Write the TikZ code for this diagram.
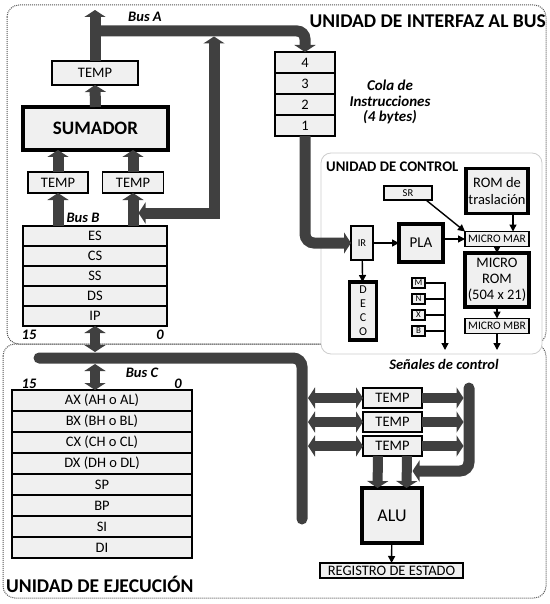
\documentclass[tikz,border=0pt]{standalone}
\usepackage{fontspec}
\setmainfont{Carlito}
\usepackage{tikz}
\usetikzlibrary{arrows.meta, positioning}
\definecolor{busgray}{RGB}{64,64,64}
\definecolor{boxfill}{RGB}{240,240,240}
\definecolor{dotgray}{RGB}{85,85,85}
\definecolor{cuborder}{RGB}{205,205,205}
\newcommand{\pxfont}[2]{\fontsize{#1}{#2}\selectfont}
\tikzset{
  reg/.style={rectangle, draw, line width=1.5pt, fill=boxfill, inner sep=0pt,
    outer sep=0pt, align=center, font=\pxfont{14.5}{16}},
  thickreg/.style={reg, line width=3.5pt},
  segreg/.style={reg, minimum width=144pt, minimum height=20pt, line width=2pt},
  qreg/.style={reg, minimum width=60pt, minimum height=21pt, line width=2pt},
  genreg/.style={reg, minimum width=180pt, minimum height=21pt, line width=2pt},
  smallreg/.style={reg, line width=1.3pt, font=\pxfont{11.5}{12}},
  flagreg/.style={reg, line width=1.3pt, minimum width=13pt, minimum height=10pt, font=\pxfont{9}{10}},
  bus/.style={line width=11pt, draw=busgray},
  busarrow/.style={bus, -{Triangle[length=7pt,width=21pt]}},
  busboth/.style={bus, {Triangle[length=7pt,width=21pt]}-{Triangle[length=7pt,width=21pt]}},
  sig/.style={line width=1.4pt, -{Triangle[length=7pt,width=7pt]}},
  buslabel/.style={font=\pxfont{14.5}{15}\bfseries\itshape, inner sep=0pt},
  region/.style={draw=dotgray, line width=1pt, dash pattern=on 1pt off 1pt, rounded corners=12pt},
}

\begin{document}
\begin{tikzpicture}[x=1pt, y=-1pt]
  \useasboundingbox (0,0) rectangle (549,604);
  % the two units
  \draw[region] (7,5) rectangle (546,344);
  \draw[region] (3,344) rectangle (546,598);
  \draw[draw=cuborder, fill=white, line width=0.8pt, rounded corners=10pt] (321,153) rectangle (542,354);
  \node[anchor=east, inner sep=0pt, font=\pxfont{19.5}{21}\bfseries] (biu) at (546,21) {UNIDAD DE INTERFAZ AL BUS};
  \node[anchor=west, inner sep=0pt, font=\pxfont{19.5}{21}\bfseries] (eu) at (6,584) {UNIDAD DE EJECUCIÓN};
  \node[anchor=west, inner sep=0pt, font=\pxfont{14.7}{16}\bfseries] (cu) at (326,167) {UNIDAD DE CONTROL};

  % bus interface unit
  \node[reg, minimum width=86pt, minimum height=24pt] (tempS) at (95,73) {TEMP};
  \node[thickreg, minimum width=145pt, minimum height=43pt, font=\pxfont{19}{20}\bfseries] (sumador) at (95.5,128.5) {SUMADOR};
  \node[reg, minimum width=60pt, minimum height=21pt] (tempL) at (58,182.5) {TEMP};
  \node[reg, minimum width=61pt, minimum height=21pt] (tempR) at (133,182.5) {TEMP};
  \node[segreg] (es) at (95,236) {ES};
  \node[segreg, below=0pt of es] (cs) {CS};
  \node[segreg, below=0pt of cs] (ss) {SS};
  \node[segreg, below=0pt of ss] (ds) {DS};
  \node[segreg, below=0pt of ds] (ip) {IP};
  \node[qreg] (q4) at (305,62.5) {4};
  \node[qreg, below=0pt of q4] (q3) {3};
  \node[qreg, below=0pt of q3] (q2) {2};
  \node[qreg, below=0pt of q2] (q1) {1};
  \node[buslabel, align=center, font=\pxfont{15}{15.5}\bfseries\itshape] (cola) at (390,102) {Cola de\\Instrucciones\\(4 bytes)};
  \node[buslabel] (lblA) at (145,17) {Bus A};
  \node[buslabel] (lblB) at (83,218) {Bus B};
  \node[buslabel] (hiB) at (29,335) {15};
  \node[buslabel] (loB) at (160,335) {0};

  \coordinate (aTop) at (95,10);
  \coordinate (busAl) at (95,31);
  \coordinate (bLink) at (138.5,213);
  \coordinate (aLink) at (214,36.5);
  \draw[busarrow] (es.north -| tempL) -- (tempL.south);
  \draw[busarrow] (es.north -| tempR) -- (tempR.south);
  \draw[busarrow] (tempL.north) -- (tempL.north |- sumador.south);
  \draw[busarrow] (tempR.north) -- (tempR.north |- sumador.south);
  \draw[busarrow] (sumador.north) -- (tempS.south);
  \draw[busarrow] (tempS.north) -- (aTop);
  \draw[busarrow, rounded corners=8pt] (busAl) -| (q4.north);
  \draw[busboth] (bLink) -| (aLink);

  % control unit
  \node[smallreg, minimum width=48pt, minimum height=14pt, font=\pxfont{10.5}{12}] (sr) at (408,193) {SR};
  \node[thickreg, minimum width=62pt, minimum height=45pt, font=\pxfont{14.5}{17}] (romtr) at (497,191) {ROM de\\traslación};
  \node[smallreg, minimum width=64pt, minimum height=15pt] (mar) at (497,239) {MICRO MAR};
  \node[reg, minimum width=22pt, minimum height=34pt, font=\pxfont{10.5}{11}] (ir) at (362,243) {IR};
  \node[thickreg, minimum width=44pt, minimum height=38pt, font=\pxfont{15}{16}] (pla) at (421,243) {PLA};
  \node[thickreg, minimum width=64pt, minimum height=54pt, font=\pxfont{14.5}{16}] (mrom) at (497,280) {MICRO\\ROM\\(504 x 21)};
  \node[smallreg, minimum width=64pt, minimum height=15pt] (mbr) at (497,326) {MICRO MBR};
  \node[thickreg, minimum width=27pt, minimum height=58pt, font=\pxfont{12}{14}] (deco) at (363,311) {D\\E\\C\\O};
  \node[flagreg] (fm) at (418.5,283) {M};
  \node[flagreg, below=6pt of fm] (fn) {N};
  \node[flagreg, below=6pt of fn] (fx) {X};
  \node[flagreg, below=6pt of fx] (fb) {B};
  \node[buslabel] (senales) at (444,364) {Señales de control};

  \coordinate (sigA) at (445,350);
  \coordinate (sigB) at (497,350);
  \draw[busarrow, rounded corners=9pt] (q1.south) |- (ir.west);
  \draw[sig] (ir) -- (pla);
  \draw[sig] (ir) -- (deco);
  \draw[sig] (pla.east |- mar) -- (mar.west);
  \draw[sig] ([xshift=-6pt]sr.south east) -- (mar.north west);
  \draw[sig] ([xshift=16pt]romtr.south) -- ([xshift=16pt]mar.north);
  \draw[sig] (mar) -- (mrom);
  \draw[sig] (mrom) -- (mbr);
  \draw[sig] (mbr) -- (sigB);
  \draw[sig] (fm.east) -| (sigA);
  \draw[line width=1.4pt] (fn.east) -- (fn.east -| sigA);
  \draw[line width=1.4pt] (fx.east) -- (fx.east -| sigA);
  \draw[line width=1.4pt] (fb.east) -- (fb.east -| sigA);

  % execution unit
  \node[genreg] (ax) at (102,400.5) {AX (AH o AL)};
  \node[genreg, below=0pt of ax] (bx) {BX (BH o BL)};
  \node[genreg, below=0pt of bx] (cx) {CX (CH o CL)};
  \node[genreg, below=0pt of cx] (dx) {DX (DH o DL)};
  \node[genreg, below=0pt of dx] (sp) {SP};
  \node[genreg, below=0pt of sp] (bp) {BP};
  \node[genreg, below=0pt of bp] (si) {SI};
  \node[genreg, below=0pt of si] (di) {DI};
  \node[buslabel] (lblC) at (142,373) {Bus C};
  \node[buslabel] (hiC) at (29,384) {15};
  \node[buslabel] (loC) at (178,384) {0};

  \node[reg, minimum width=59pt, minimum height=20pt] (t1) at (392.5,398) {TEMP};
  \node[reg, minimum width=59pt, minimum height=20pt, below=4pt of t1] (t2) {TEMP};
  \node[reg, minimum width=59pt, minimum height=20pt, below=4pt of t2] (t3) {TEMP};
  \node[thickreg, minimum width=60pt, minimum height=55pt, font=\pxfont{18}{20}] (alu) at (392,515.5) {ALU};
  \node[reg, minimum width=143pt, minimum height=15pt, line width=2pt] (estado) at (391.5,570.5) {REGISTRO DE ESTADO};

  \coordinate (cL) at (39,358);
  \coordinate (cB) at (302,519);
  \coordinate (cR) at (308,450);
  \coordinate (rL) at (463.5,430);
  \coordinate (rTop) at (469,388);
  \coordinate (aluIn) at (412.5,471);
  \draw[bus, line cap=round, rounded corners=9pt] (cL) -| (cB);
  \draw[busboth, line width=10pt] (ip.south) -- ++(0,26);
  \draw[busboth, line width=10pt] (ax.north -| ip) -- ++(0,-26);
  \draw[busboth, line width=10pt] (t1.west -| cR) -- (t1.west);
  \draw[busboth, line width=10pt] (t2.west -| cR) -- (t2.west);
  \draw[busboth, line width=10pt] (t3.west -| cR) -- (t3.west);
  \draw[busarrow, line width=10pt] (t1.east) -- (t1.east -| rL);
  \draw[busarrow, line width=10pt] (t2.east) -- (t2.east -| rL);
  \draw[busarrow, line width=10pt] (t3.east) -- (t3.east -| rL);
  \draw[busarrow, line cap=round, rounded corners=9pt] (rTop) |- (aluIn);
  \draw[busarrow, line width=10pt] ([xshift=-14.5pt]t3.south) -- ([xshift=-14.5pt]alu.north);
  \draw[busarrow, line width=10pt] ([xshift=14.5pt]t3.south) -- ([xshift=14.5pt]alu.north);
  \draw[sig] (alu) -- (estado);
\end{tikzpicture}
\end{document}
